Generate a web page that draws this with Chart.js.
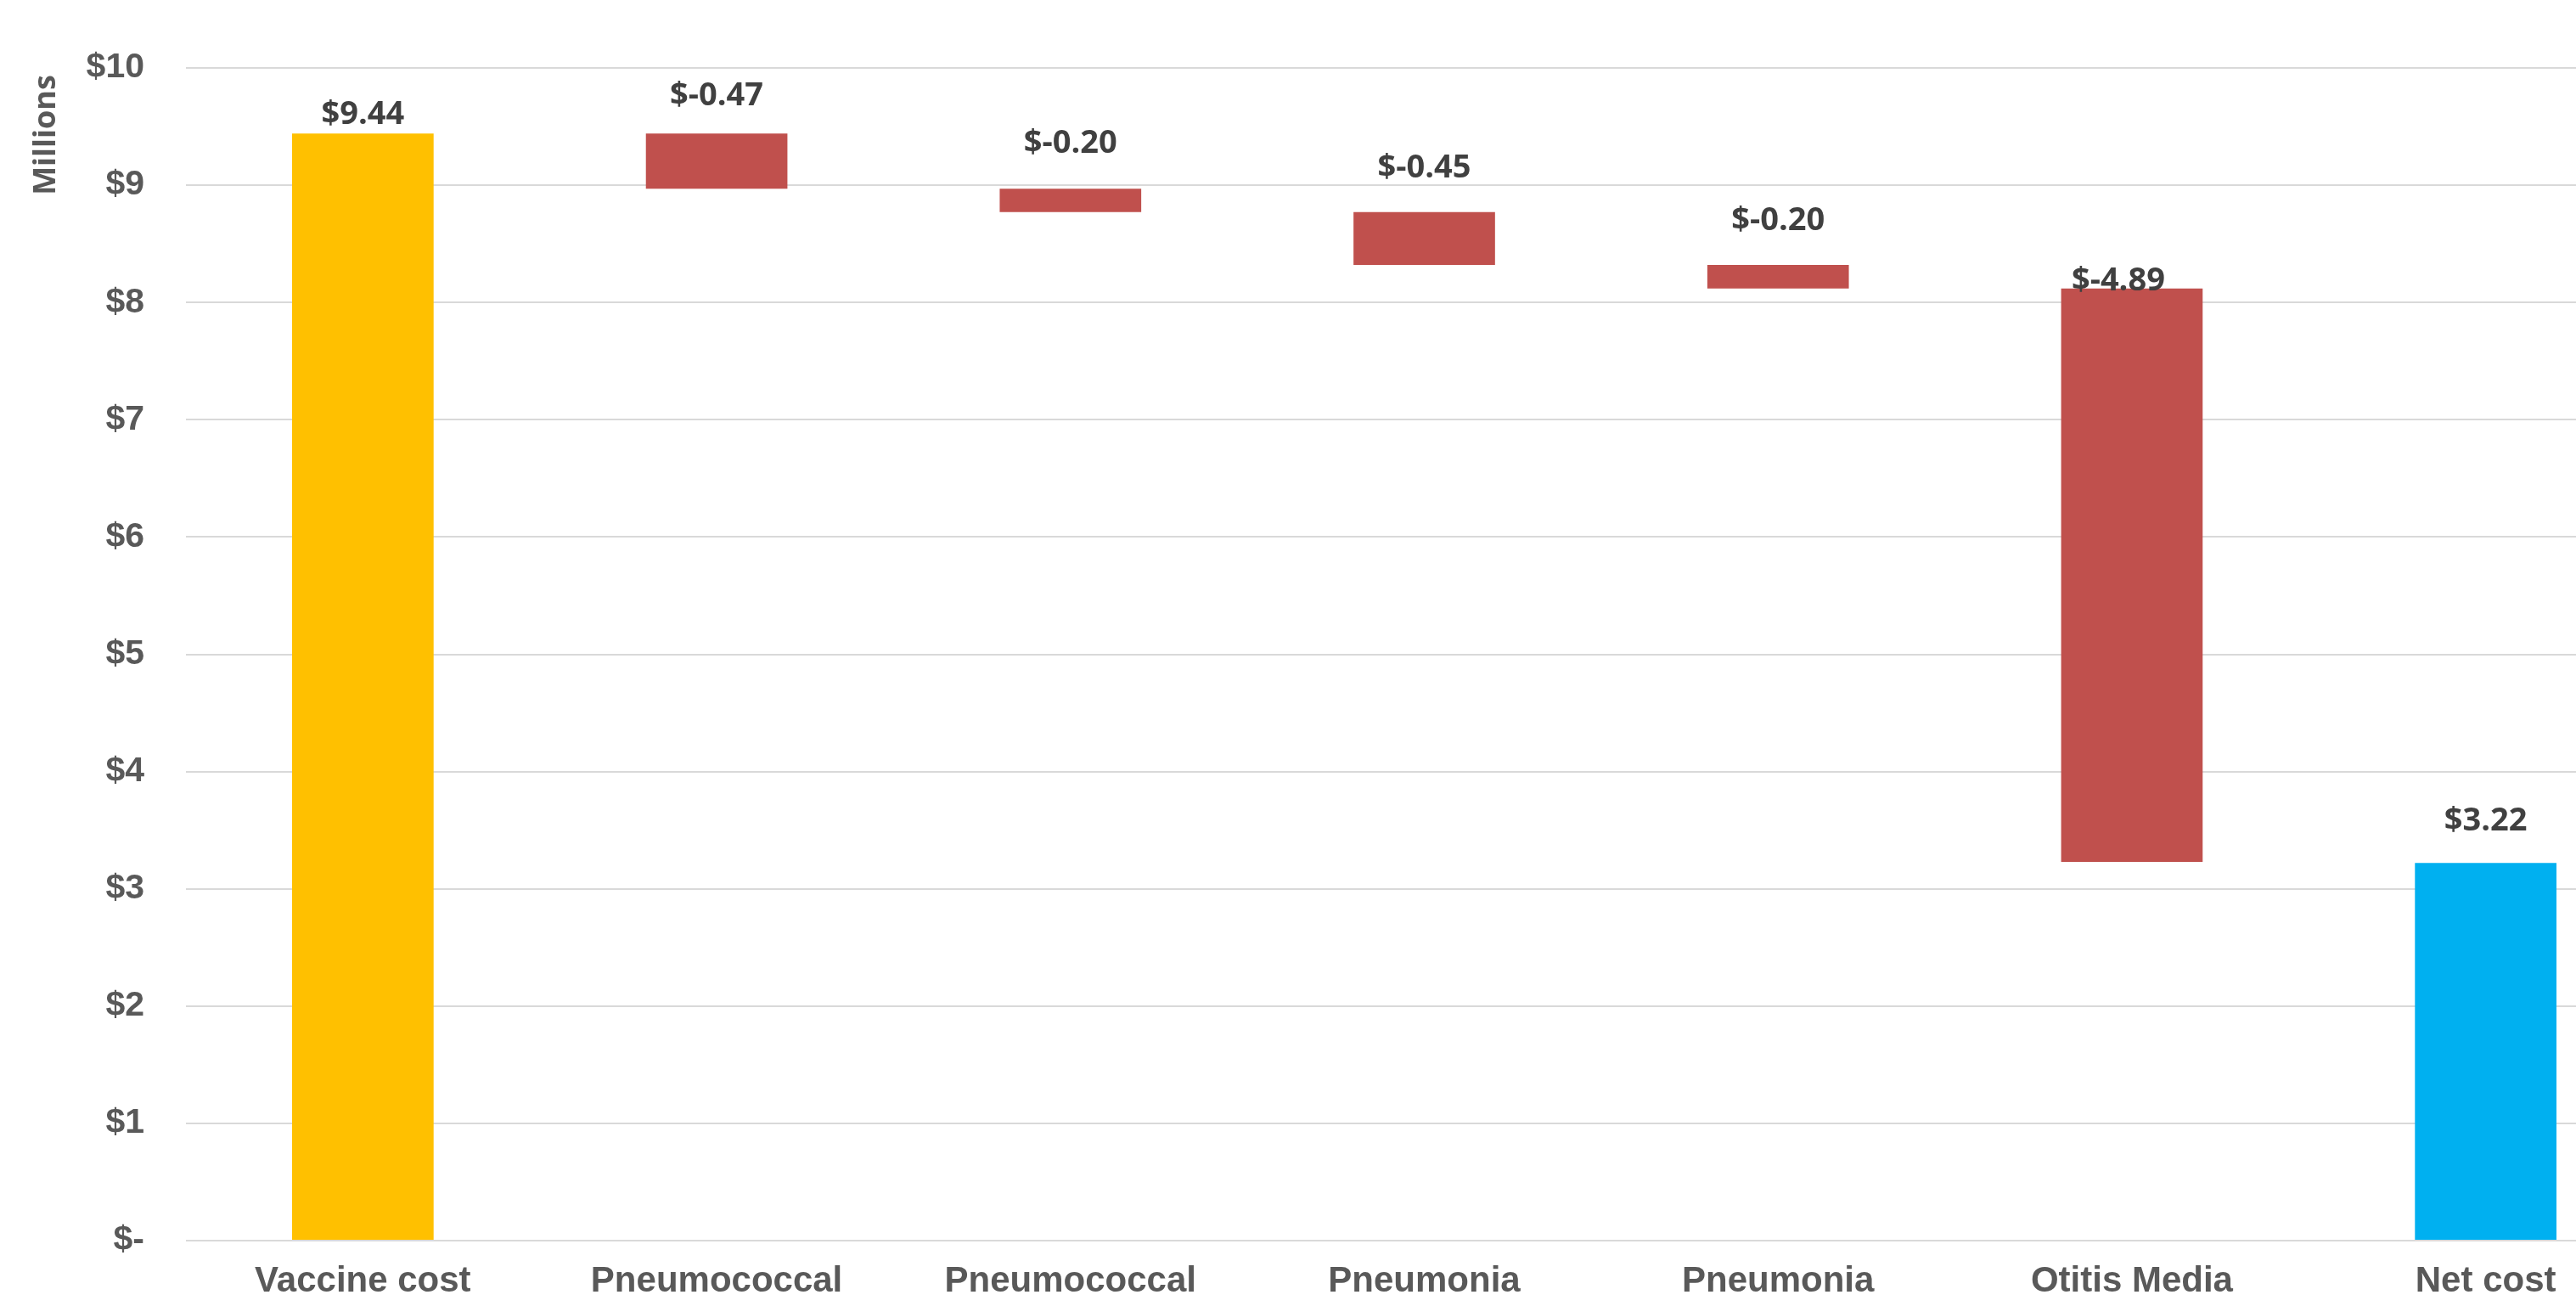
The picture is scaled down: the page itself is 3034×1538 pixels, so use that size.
<!DOCTYPE html>
<html>
<head>
<meta charset="utf-8">
<title>Vaccine cost waterfall</title>
<script src="https://cdn.jsdelivr.net/npm/chart.js@4.4.1/dist/chart.umd.min.js"></script>
<style>
  html, body { margin: 0; padding: 0; background: #ffffff; overflow: hidden; }
  #wrap { width: 3150px; height: 1538px; }
</style>
</head>
<body>
<div id="wrap"><canvas id="chart" width="3150" height="1538"></canvas></div>
<script>
// Waterfall steps, in millions of dollars
const categories = ['Vaccine cost', 'Pneumococcal', 'Pneumococcal', 'Pneumonia', 'Pneumonia', 'Otitis Media', 'Net cost'];
const changes = [9.44, -0.47, -0.20, -0.45, -0.20, -4.89, 3.22];
const kinds = ['total', 'step', 'step', 'step', 'step', 'step', 'total'];
const yTickValues = [0, 1, 2, 3, 4, 5, 6, 7, 8, 9, 10];

// Build floating [low, high] ranges: totals start at zero, steps hang from the running level
let level = 0;
const ranges = changes.map((v, i) => {
  if (kinds[i] === 'total') { level = v; return [0, v]; }
  const start = level;
  level = start + v;
  return [Math.min(start, level), Math.max(start, level)];
});

const barColors = kinds.map((k, i) => k === 'total' ? (i === 0 ? '#FFC000' : '#00B0F0') : '#C0504D');
// placement of each value label relative to its bar top, in px
const labelGap = [22, 44, 53, 52, 52, 8, 49];
const labelShift = [0, 0, 0, 0, 0, -16, 0];

const fmtMoney = v => v < 0 ? '$-' + Math.abs(v).toFixed(2) : '$' + v.toFixed(2);

const valueLabels = {
  id: 'valueLabels',
  afterDatasetsDraw(chart) {
    const ctx = chart.ctx;
    const meta = chart.getDatasetMeta(0);
    ctx.save();
    ctx.font = 'bold 38px "Open Sans", sans-serif';
    ctx.fillStyle = '#404040';
    ctx.textAlign = 'center';
    ctx.textBaseline = 'middle';
    meta.data.forEach((bar, i) => {
      const top = Math.min(bar.y, bar.base);
      ctx.fillText(fmtMoney(changes[i]), bar.x + labelShift[i], top - labelGap[i]);
    });
    ctx.restore();
  }
};

const unitTitle = {
  id: 'unitTitle',
  afterDraw(chart) {
    const ctx = chart.ctx;
    ctx.save();
    ctx.translate(55, 159);
    ctx.rotate(-Math.PI / 2);
    ctx.font = 'bold 36px "Open Sans", sans-serif';
    ctx.fillStyle = '#595959';
    ctx.textAlign = 'center';
    ctx.textBaseline = 'middle';
    ctx.fillText('Millions', 0, 0);
    ctx.restore();
  }
};

new Chart(document.getElementById('chart'), {
  type: 'bar',
  data: {
    labels: categories,
    datasets: [{
      data: ranges,
      backgroundColor: barColors,
      borderWidth: 0,
      barPercentage: 0.4,
      categoryPercentage: 1.0
    }]
  },
  options: {
    responsive: false,
    devicePixelRatio: 1,
    animation: false,
    layout: { padding: { top: 80, right: 14, bottom: 0, left: 0 } },
    plugins: {
      legend: { display: false },
      tooltip: { enabled: false }
    },
    scales: {
      x: {
        grid: { display: false, drawTicks: false },
        border: { display: false },
        ticks: {
          color: '#595959',
          font: { family: '"Liberation Sans", Arial, sans-serif', size: 42, weight: 'bold' },
          padding: 23,
          maxRotation: 0,
          autoSkip: false
        },
        afterFit(scale) { scale.height = 77; }
      },
      y: {
        min: yTickValues[0],
        max: yTickValues[yTickValues.length - 1],
        afterBuildTicks(scale) { scale.ticks = yTickValues.map(v => ({ value: v })); },
        grid: { color: '#D9D9D9', lineWidth: 2, drawTicks: false },
        border: { display: false },
        ticks: {
          color: '#595959',
          font: { family: '"Liberation Sans", Arial, sans-serif', size: 41, weight: 'bold' },
          padding: 49,
          callback: v => v === 0 ? '$-' : '$' + v
        },
        afterFit(scale) { scale.width = 219; }
      }
    }
  },
  plugins: [valueLabels, unitTitle]
});
</script>
</body>
</html>
